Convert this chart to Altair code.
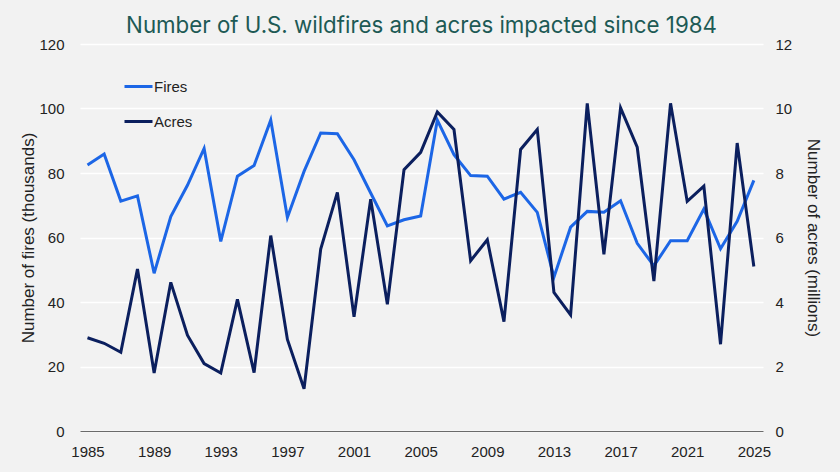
import altair as alt
import pandas as pd

# U.S. wildfires per year (thousands) and acres burned (millions)
years = list(range(1985, 2026))
fires = [82.5, 85.9, 71.3, 72.9, 48.9, 66.5, 76.2, 87.6, 58.8, 79.0, 82.3, 96.4, 66.2, 80.5,
         92.4, 92.2, 84.1, 73.8, 63.6, 65.5, 66.7, 96.4, 85.7, 79.2, 79.0, 71.9,
         74.0, 67.8, 47.7, 63.2, 68.1, 67.8, 71.4, 58.2, 51.2, 59.0, 59.0, 68.8, 56.5, 65.0, 77.7]
acres = [2.89, 2.72, 2.44, 5.02, 1.80, 4.61, 2.97, 2.09, 1.80, 4.08, 1.81, 6.06, 2.84, 1.31,
         5.64, 7.40, 3.54, 7.19, 3.93, 8.10, 8.64, 9.89, 9.35, 5.28, 5.93, 3.39,
         8.73, 9.35, 4.30, 3.60, 10.16, 5.48, 10.02, 8.80, 4.65, 10.16, 7.12, 7.59, 2.69, 8.93, 5.10]
series = ["Fires", "Acres"]
colors = ["#1c66e6", "#0b1f5e"]
year_ticks = list(range(1985, 2026, 4))

df = pd.DataFrame({"year": years, "fires": fires, "acres": acres})

FONT = "Liberation Sans"
TEXT = "#222222"

color_scale = alt.Scale(domain=series, range=colors)
legend = alt.Legend(
    title=None, orient="none", legendX=43, legendY=27,
    symbolType="stroke", symbolSize=784, symbolStrokeWidth=3,
    labelFontSize=15, labelFont=FONT, labelColor=TEXT, labelOffset=0,
    rowPadding=11, direction="vertical",
)
color = alt.Color("series:N", scale=color_scale, legend=legend)

x = alt.X(
    "year:Q",
    scale=alt.Scale(domain=[1984.55, 2025.55], nice=False, zero=False),
    axis=alt.Axis(values=year_ticks, format="d", title=None, grid=False, ticks=False,
                  domain=True, domainColor="#6b6b6b", domainWidth=1.2,
                  labelPadding=13, labelFontSize=15, labelFont=FONT, labelColor=TEXT),
)

fires_line = alt.Chart(df).transform_calculate(series="'Fires'").mark_line(strokeWidth=3).encode(
    x=x,
    y=alt.Y("fires:Q", scale=alt.Scale(domain=[0, 120], nice=False),
            axis=alt.Axis(values=[0, 20, 40, 60, 80, 100, 120], title="Number of fires (thousands)",
                          orient="left", grid=True, gridColor="#ffffff", gridWidth=1.3,
                          domain=False, ticks=False, labelPadding=16,
                          labelFontSize=15, labelFont=FONT, labelColor=TEXT,
                          titleFontSize=17, titleFont=FONT, titleColor=TEXT,
                          titleFontWeight="normal", titlePadding=1)),
    color=color,
)

acres_line = alt.Chart(df).transform_calculate(series="'Acres'").mark_line(strokeWidth=3).encode(
    x=x,
    y=alt.Y("acres:Q", scale=alt.Scale(domain=[0, 12], nice=False),
            axis=alt.Axis(values=[0, 2, 4, 6, 8, 10, 12], title="Number of acres (millions)",
                          orient="right", grid=False, domain=False, ticks=False, labelPadding=12,
                          labelFontSize=15, labelFont=FONT, labelColor=TEXT,
                          titleFontSize=17, titleFont=FONT, titleColor=TEXT,
                          titleFontWeight="normal", titlePadding=12)),
    color=color,
)

chart = alt.layer(fires_line, acres_line).resolve_scale(y="independent").properties(
    width=683, height=387,
    autosize=alt.AutoSizeParams(type="none"),
    padding={"left": 80, "top": 44, "right": 77, "bottom": 41},
    background="#f2f2f2",
    title=alt.TitleParams(
        "Number of U.S. wildfires and acres impacted since 1984",
        font="Inter", fontSize=22.3, fontWeight="normal", color="#1d5a55",
        anchor="middle", baseline="alphabetic", offset=-18,
    ),
).configure_view(stroke=None)

chart.save("out.html", embed_options={"renderer": "svg", "actions": False})
